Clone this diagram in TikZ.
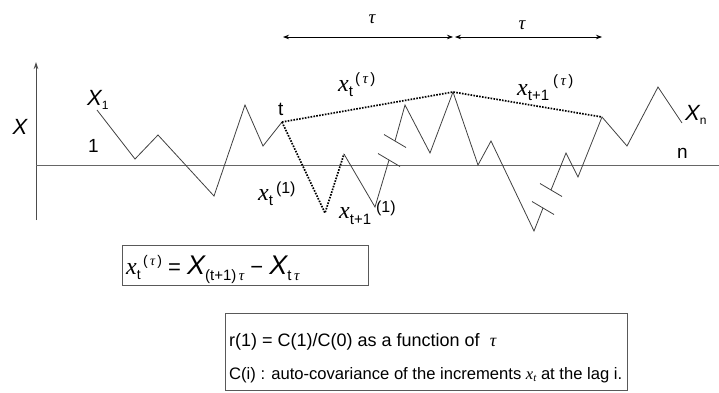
\documentclass[tikz,border=0pt]{standalone}
\usepackage{fontspec}
\setmainfont{Liberation Sans}
\newfontfamily\tnr{Liberation Serif}
\usetikzlibrary{arrows.meta}
\newcommand\vx{{\tnr\itshape x}}
\newcommand\tauc{{\tnr\itshape τ}}
\newcommand\fs[1]{\fontsize{#1}{#1}\selectfont}

\begin{document}
\begin{tikzpicture}[x=1pt,y=-1pt,
    walk/.style={black!75,line width=0.8pt},
    lag/.style={black,line width=1.7pt,dash pattern=on 1.6pt off 1.3pt},
    cut/.style={black!75,line width=0.8pt},
    span/.style={black,line width=0.8pt,{Stealth[length=6pt,width=4.5pt]}-{Stealth[length=6pt,width=4.5pt]}},
    lbl/.style={inner sep=0pt,anchor=base west},
    box/.style={draw=black!65,line width=0.8pt,inner sep=0pt}]
  \useasboundingbox (0,0) rectangle (719,392);
  % axes
  \coordinate (ybot) at (36,220); \coordinate (ytop) at (36,62);
  \coordinate (o) at (36,165); \coordinate (xend) at (719,165);
  \draw[black!70,line width=0.8pt,-{Stealth[length=7pt,width=4.5pt]}] (ybot) -- (ytop);
  \draw[black!60,line width=0.8pt] (o) -- (xend);
  % the walk, with two cut segments
  \coordinate (t) at (282,122); \coordinate (m) at (453,92); \coordinate (e) at (602,117);
  \draw[walk] (97,110) -- (135,159) -- (158,135) -- (214,196) -- (245,105) -- (263,146) -- (t);
  \draw[walk] (344,154) -- (375,207) -- (389,160);
  \draw[walk] (395,141) -- (405,105) -- (430,153) -- (m) -- (478,165) -- (491,141) -- (534,231) -- (543,208);
  \draw[walk] (551,190) -- (566,153) -- (578,177) -- (e) -- (627,146) -- (658,87) -- (682,123);
  \foreach \x/\y in {389/160,395/141,543/208,551/190}
    {\draw[cut] (\x-11,\y-6.5) -- (\x+11,\y+6.5);}
  \draw[lag] (t) -- (325,213) -- (344,154);
  \draw[lag] (t) -- (m) -- (e);
  % lags
  \coordinate (a0) at (283,37); \coordinate (a1) at (453,37);
  \coordinate (a2) at (455,37); \coordinate (a3) at (602,37);
  \draw[span] (a0) -- (a1); \draw[span] (a2) -- (a3);
  \node (tau1) at (372,19) {\fs{19}\tauc};
  \node (tau2) at (522,25) {\fs{19}\tauc};
  % labels
  \node[inner sep=0pt] (ax) at (20,127) {\fs{22}\itshape X};
  \node[lbl] (x1) at (87,105) {\fs{22}\itshape X\raisebox{-4pt}{\fs{12}\upshape 1}};
  \node[lbl] (xn) at (685,120) {\fs{22}\itshape X\raisebox{-4pt}{\fs{12}\upshape n}};
  \node[lbl] (one) at (88,152) {\fs{19}1};
  \node[lbl] (tl) at (278,115) {\fs{19}t};
  \node[lbl] (nl) at (677,158) {\fs{19}n};
  \node[lbl] (xtau) at (338,91) {\fs{24}\vx\raisebox{-5pt}{\fs{15}t}\raisebox{8pt}{\fs{15}\hspace{2pt}(\hspace{2.5pt}\tauc\hspace{2.5pt})}};
  \node[lbl] (xtau1) at (517,95) {\fs{24}\vx\raisebox{-5pt}{\fs{15}t+1}\raisebox{10pt}{\fs{15}\hspace{4pt}(\hspace{2.5pt}\tauc\hspace{2.5pt})}};
  \node[lbl] (xone) at (258,200) {\fs{24}\vx\raisebox{-5pt}{\fs{15}t}\raisebox{7pt}{\fs{16}\hspace{3pt}(1)}};
  \node[lbl] (xone1) at (339,218) {\fs{24}\vx\raisebox{-6pt}{\fs{15}t+1}\raisebox{6pt}{\fs{16}\hspace{5pt}(1)}};
  % formulas
  \node[box,minimum width=246,minimum height=40] (def) at (245,265) {};
  \node[lbl] (deft) at (126,274) {\fs{24}\vx\raisebox{-5pt}{\fs{14}t}\raisebox{9pt}{\fs{14}\,(\,\tauc\,)}\fs{22}~=~{\fs{27}\itshape X}\raisebox{-6pt}{\fs{15}(t+1)\,\tauc}~−~{\fs{27}\itshape X}\raisebox{-6pt}{\fs{15}t\,\tauc}};
  \node[box,minimum width=402,minimum height=77] (res) at (426,351.5) {};
  \node[lbl] (r1) at (229,346) {\fs{18}r(1) = C(1)/C(0) as a function of~~\tauc};
  \node[lbl] (ci) at (229,379) {\fs{16.6}C(i) : auto-covariance of the increments \vx\raisebox{-2pt}{\fs{11}\tnr\itshape t} at the lag i.};
\end{tikzpicture}
\end{document}
